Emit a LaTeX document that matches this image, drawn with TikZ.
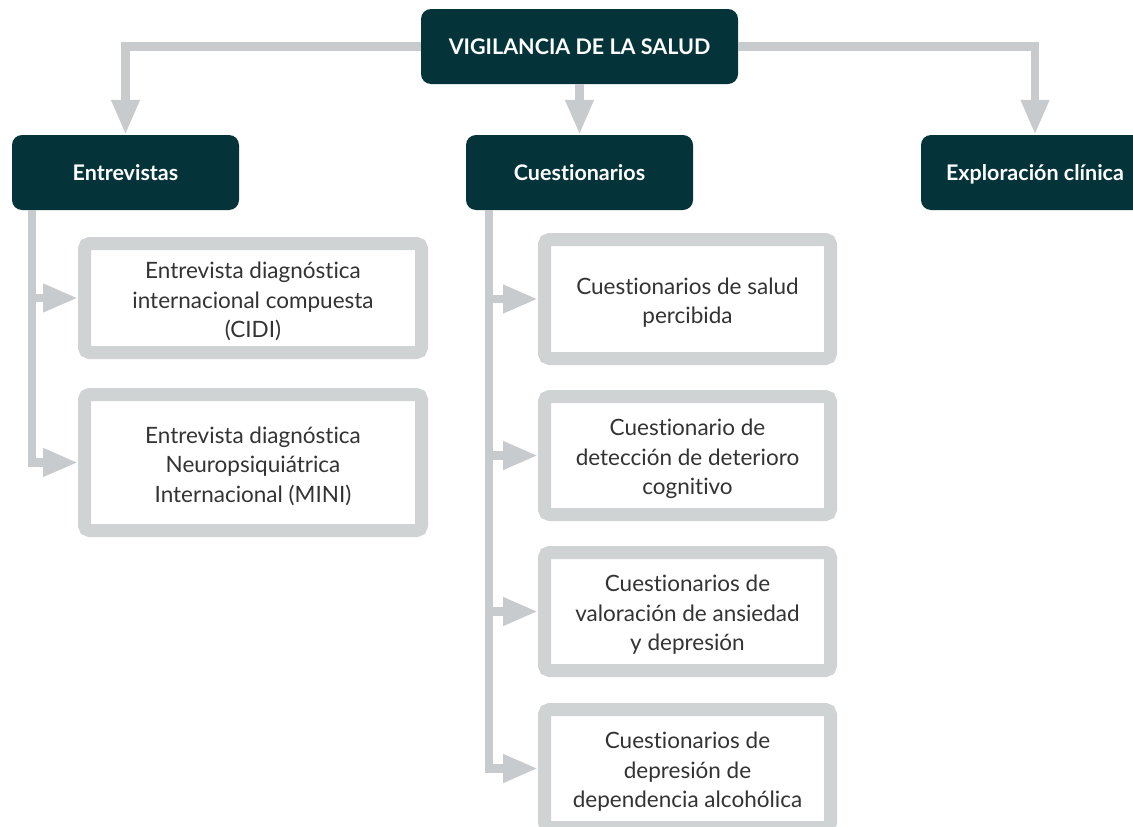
\documentclass[tikz,border=0pt]{standalone}
\usepackage{fontspec}
\setmainfont{Lato}[Ligatures=NoCommon]
\usetikzlibrary{arrows.meta}
\definecolor{teal}{HTML}{04343A}
\definecolor{lgray}{HTML}{C8CBCD}
\definecolor{bgray}{HTML}{D0D3D4}
\definecolor{txt}{HTML}{333333}
\tikzset{
  head/.style={rectangle, rounded corners=10pt, fill=teal, text=white,
    font=\fontsize{21.5}{24}\selectfont\bfseries, minimum height=75pt, inner sep=0pt,
    text height=15.5pt, text depth=0pt},
  leaf/.style={rectangle, draw=bgray, line width=13pt, rounded corners=5pt, fill=white, inner sep=0pt},
  leaftext/.style={text=txt, align=center, font=\fontsize{22.5}{29.5}\selectfont, inner sep=0pt,
    yshift=-3.5pt},
  conn/.style={draw=lgray, line width=8.5pt, -{Triangle[width=26.5pt,length=35pt]}, line join=miter},
}
\begin{document}
\begin{tikzpicture}[x=1pt,y=-1pt]
\useasboundingbox (0,0) rectangle (1133,827);
\clip (0,0) rectangle (1133,827);
% level 1
\node[head, minimum width=317pt] (top) at (579.5,46.5) {VIGILANCIA DE LA SALUD};
% level 2
\node[head, minimum width=227pt] (ent) at (125.5,172.5) {Entrevistas};
\node[head, minimum width=227pt] (cue) at (579.5,172.5) {Cuestionarios};
\node[head, minimum width=228pt] (exp) at (1035,172.5) {Exploración clínica};
% left leaves
\node[leaf, minimum width=337pt, minimum height=109pt] (l1) at (253,298) {};
\node[leaftext] (l1t) at (l1.center) {Entrevista diagnóstica\\internacional compuesta\\(CIDI)};
\node[leaf, minimum width=337pt, minimum height=136pt] (l2) at (253,462.5) {};
\node[leaftext] (l2t) at (l2.center) {Entrevista diagnóstica\\Neuropsiquiátrica\\Internacional (MINI)};
% middle leaves
\node[leaf, minimum width=286pt, minimum height=119pt] (m1) at (687.5,299) {};
\node[leaftext] (m1t) at (m1.center) {Cuestionarios de salud\\percibida};
\node[leaf, minimum width=286pt, minimum height=118pt] (m2) at (687.5,455.5) {};
\node[leaftext] (m2t) at (m2.center) {Cuestionario de\\detección de deterioro\\cognitivo};
\node[leaf, minimum width=286pt, minimum height=118pt] (m3) at (687.5,611.5) {};
\node[leaftext] (m3t) at (m3.center) {Cuestionarios de\\valoración de ansiedad\\y depresión};
\node[leaf, minimum width=286pt, minimum height=118pt] (m4) at (687.5,768.5) {};
\node[leaftext] (m4t) at (m4.center) {Cuestionarios de\\depresión de\\dependencia alcohólica};
% connectors from top
\draw[conn] (top.west) -| (ent.north);
\draw[conn] (top.south) -- (cue.north);
\draw[conn] (top.east) -| (exp.north);
% left stem
\coordinate (es) at ([xshift=20pt]ent.south west);
\draw[conn] (es) |- (l1.west);
\draw[conn] (es) |- (l2.west);
% middle stem
\coordinate (cs) at ([xshift=23pt]cue.south west);
\draw[conn] (cs) |- (m1.west);
\draw[conn] (cs) |- (m2.west);
\draw[conn] (cs) |- (m3.west);
\draw[conn] (cs) |- (m4.west);
\end{tikzpicture}
\end{document}
